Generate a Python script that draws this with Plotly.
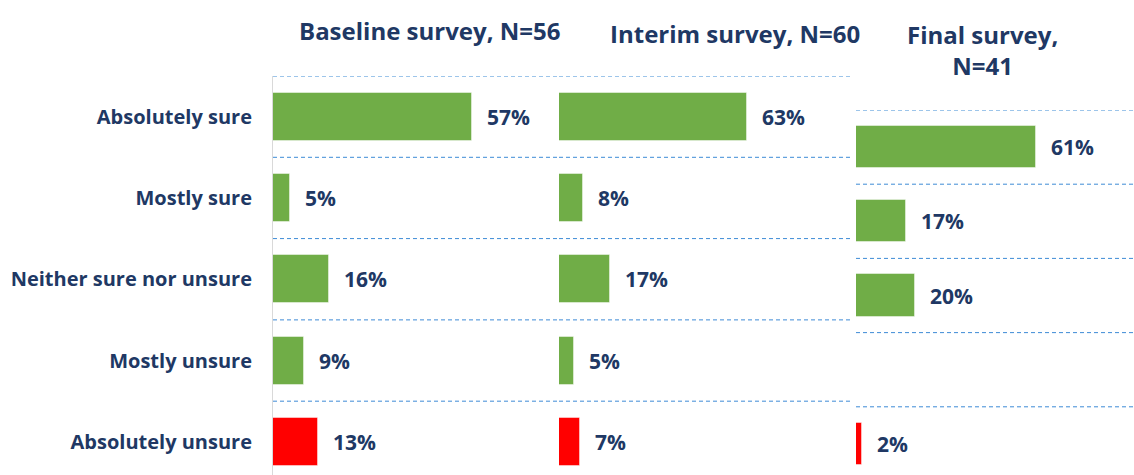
import plotly.graph_objects as go

# ---- data ----
categories = ["Absolutely sure", "Mostly sure", "Neither sure nor unsure",
              "Mostly unsure", "Absolutely unsure"]
panel_titles = ["Baseline survey, N=56", "Interim survey, N=60", "Final survey,<br>N=41"]
baseline = [57, 5, 16, 9, 13]
interim = [63, 8, 17, 5, 7]
final = [61, 17, 20, None, 2]
bar_colors = ["#70AD47", "#70AD47", "#70AD47", "#70AD47", "#FF0000"]

W, H = 1134, 475
NAVY = "#203864"
FONT = "Open Sans"

def px(x):
    return x / W

def py(y):
    return 1 - y / H

panels = [
    dict(vals=baseline, xd=(273, 559), xmax=81.9, ytop=76, ybot=4.408, bw=0.59, ax=""),
    dict(vals=interim, xd=(559, 853), xmax=98.7, ytop=76, ybot=4.408, bw=0.59, ax="2"),
    dict(vals=final, xd=(856, 1134), xmax=94.2, ytop=110, ybot=4.419, bw=0.57, ax="3"),
]

fig = go.Figure()
shapes = []
annotations = []
idx = list(range(len(categories)))

for k, p in enumerate(panels):
    xa = "x" + p["ax"]
    ya = "y" + p["ax"]
    fig.add_trace(go.Bar(
        x=p["vals"], y=idx, orientation="h", width=p["bw"],
        marker=dict(color=bar_colors, line=dict(color="rgba(255,255,255,0.45)", width=1)),
        xaxis=xa, yaxis=ya, hoverinfo="skip", showlegend=False,
    ))
    xkey = "xaxis" + p["ax"]
    ykey = "yaxis" + p["ax"]
    fig.layout[xkey] = dict(domain=[px(p["xd"][0]), px(p["xd"][1])],
                            range=[0, p["xmax"]], visible=False, anchor=ya,
                            automargin=False)
    ycfg = dict(domain=[0, py(p["ytop"])], range=[p["ybot"], -0.5],
                showgrid=False, zeroline=False, anchor=xa, automargin=False,
                tickvals=idx, showticklabels=False)
    if k == 0:
        ycfg.update(showticklabels=True, ticktext=categories, ticks="",
                    ticklabelstandoff=16, showline=True, linecolor="#D9D9D9",
                    linewidth=1,
                    tickfont=dict(family=FONT, size=20, color=NAVY, weight="bold"))
    fig.layout[ykey] = ycfg
    for b in range(len(categories) + 1):
        shapes.append(dict(type="line", xref=xa + " domain", x0=0, x1=1,
                           yref=ya, y0=b - 0.5, y1=b - 0.5,
                           line=dict(color="#3D8BD6", width=1, dash="4px,3px")))
    for i, v in enumerate(p["vals"]):
        if v is None:
            continue
        annotations.append(dict(x=v, y=i, xref=xa, yref=ya, text=f"{v}%",
                                showarrow=False, xanchor="left", xshift=13,
                                font=dict(family=FONT, size=21, color=NAVY, weight="bold")))

title_pos = [(429, 31), (735, 33), (982, 50)]
for t, (tx, ty) in zip(panel_titles, title_pos):
    annotations.append(dict(x=px(tx), y=py(ty), xref="paper", yref="paper", text=t,
                            showarrow=False, xanchor="center", yanchor="middle",
                            font=dict(family=FONT, size=24, color=NAVY, weight="bold")))

fig.update_layout(
    width=W, height=H, margin=dict(l=0, r=0, t=0, b=0),
    plot_bgcolor="white", paper_bgcolor="white",
    shapes=shapes, annotations=annotations, bargap=0,
    font=dict(family=FONT),
)

fig.write_html("out.html", config={"displayModeBar": False},
               post_script="document.body.style.margin='0';")
